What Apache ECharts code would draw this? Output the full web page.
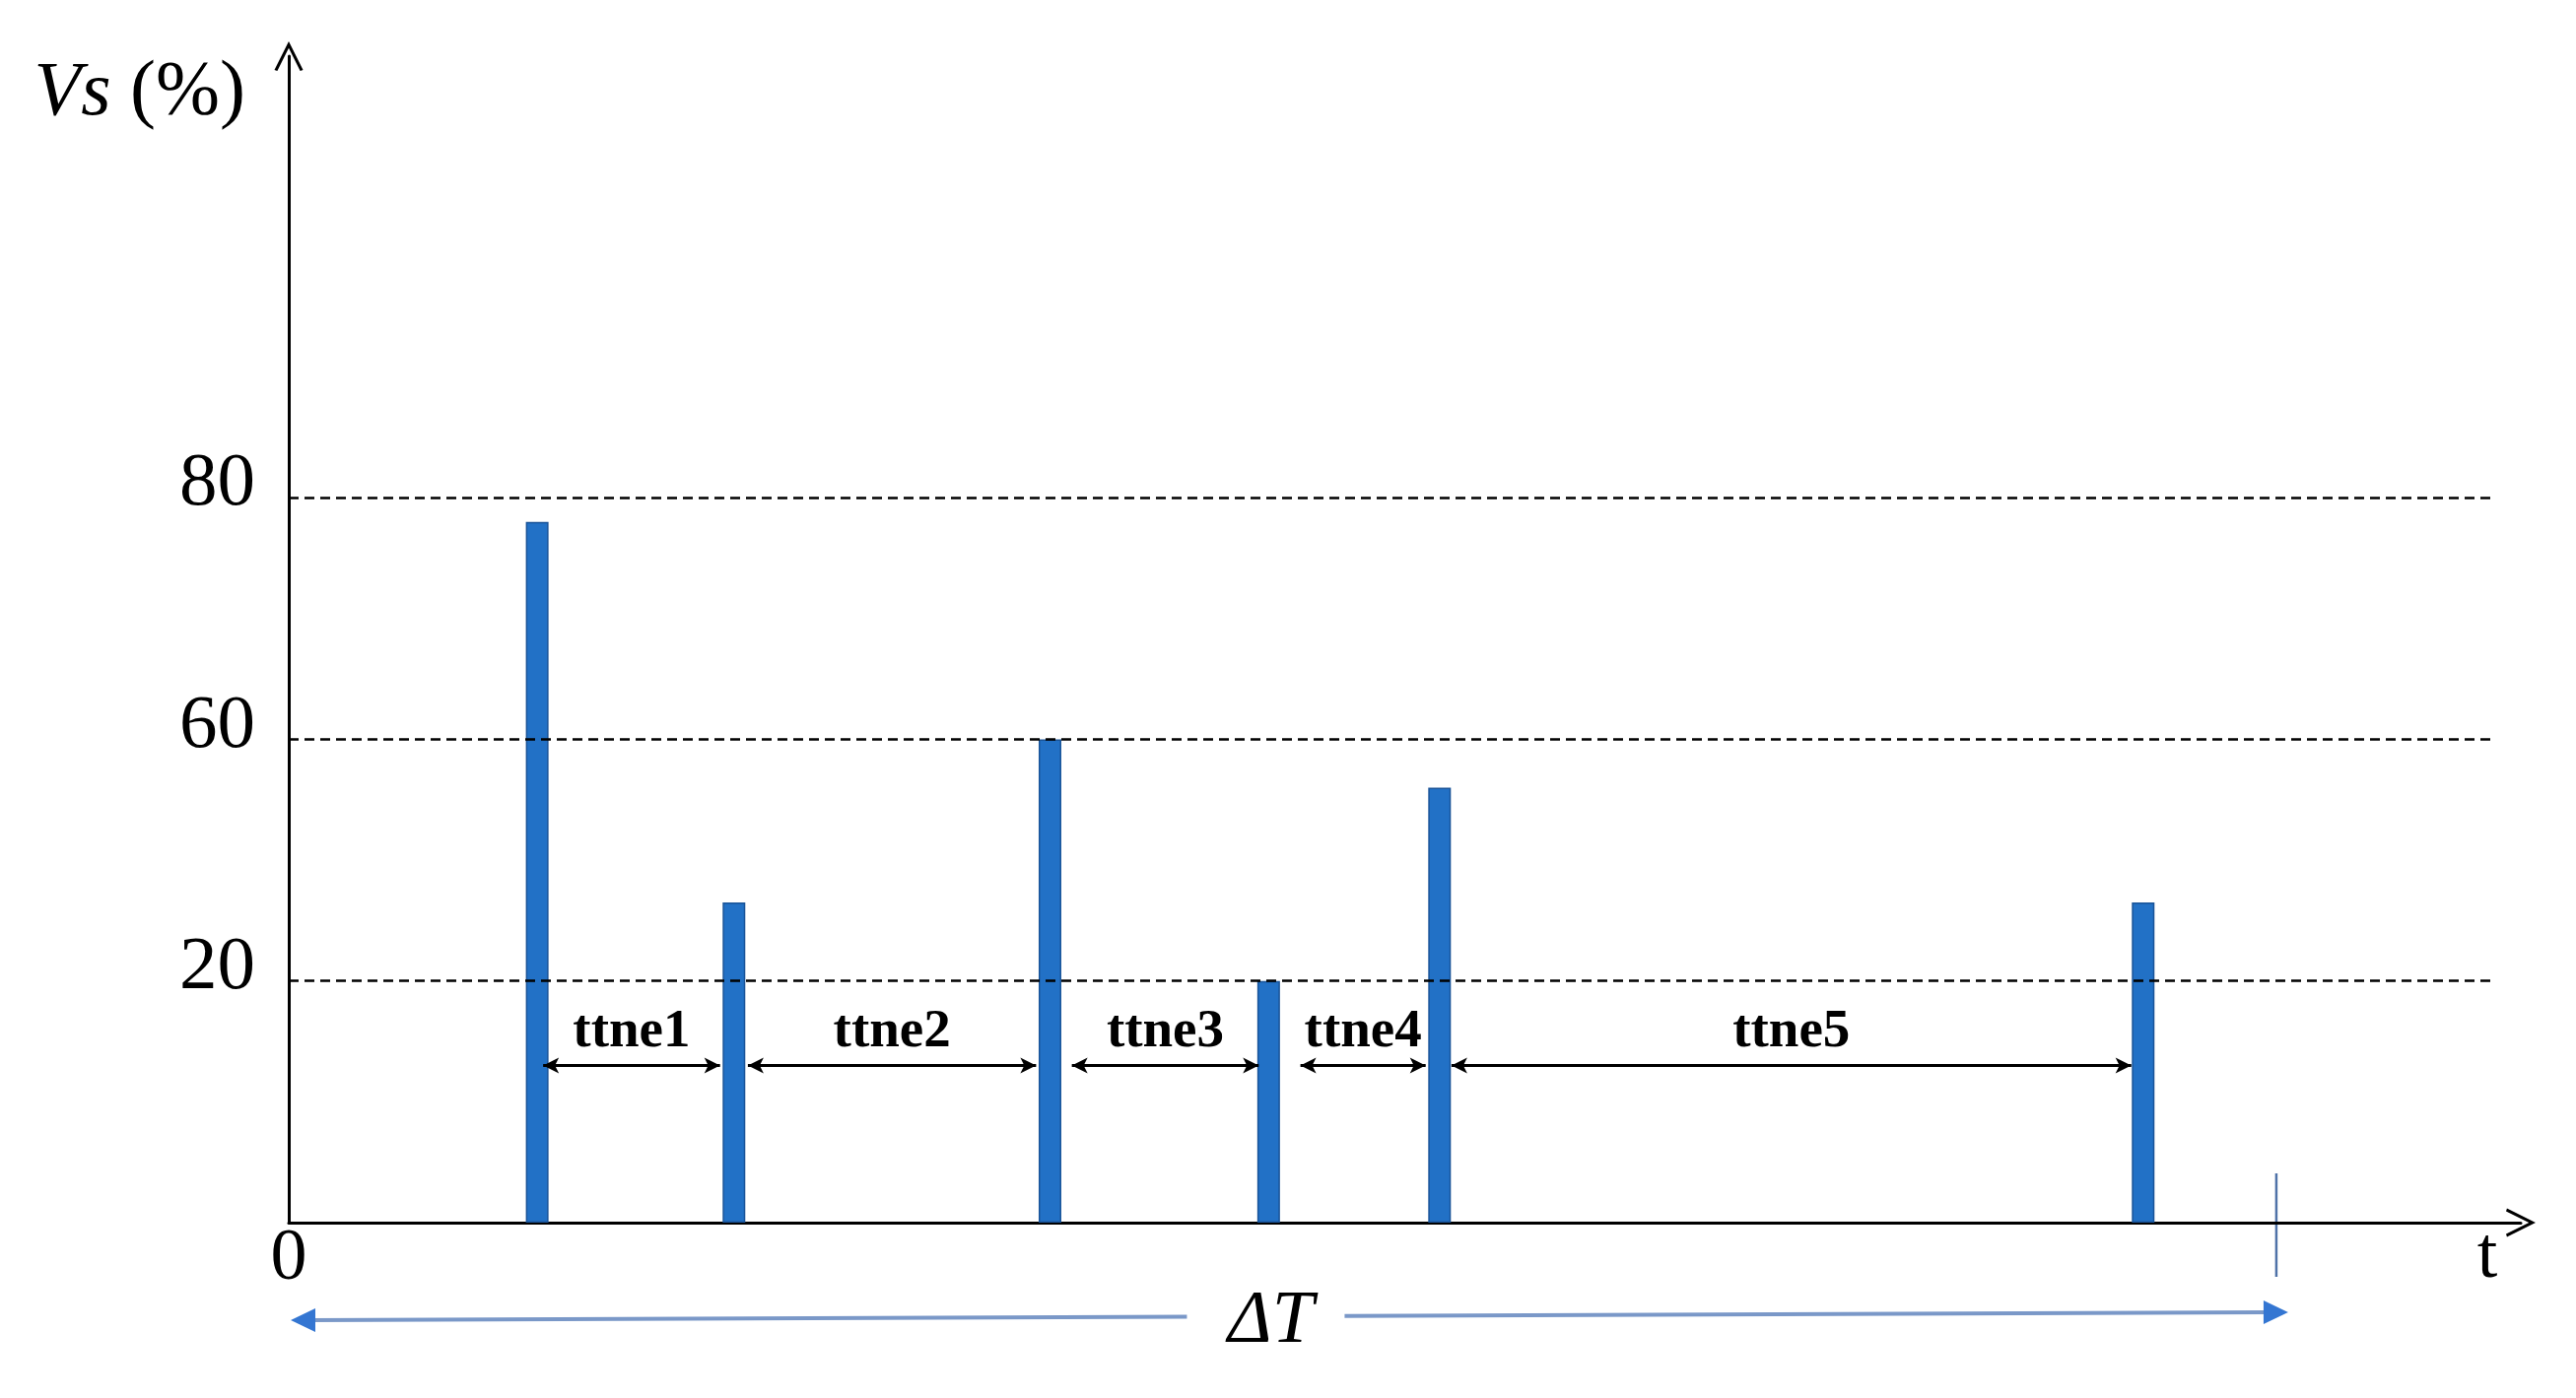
<!DOCTYPE html>
<html>
<head>
<meta charset="utf-8">
<script src="https://cdn.jsdelivr.net/npm/echarts@6/dist/echarts.min.js"></script>
<style>
  html, body { margin: 0; padding: 0; background: #fff; }
  #chart { width: 2614px; height: 1419px; }
</style>
</head>
<body>
<div id="chart"></div>
<script>
// event times (time window deltaT = 100) and peak Vs (%) of each event
var eventTimes = [12.5, 22.4, 38.3, 49.3, 57.9, 93.3];
var eventVs = [78, 33, 60, 20, 52, 33];
// y axis levels, drawn evenly spaced as in the sketch
var levelValues = [0, 20, 60, 80];
var levelLabels = ["", "20", "60", "80"];
// time-to-next-event arrows
var ttneNames = ["ttne1", "ttne2", "ttne3", "ttne4", "ttne5"];
var ttneFrom = [12.8, 23.1, 39.4, 50.9, 58.5];
var ttneTo = [21.7, 37.6, 48.8, 57.2, 92.7];
var ttneVs = 13;
var deltaT = 100;
var tMax = 112.3;
var gridEnd = 110.8;

var FONT = "Liberation Serif";
var chevron = "path://M0,30 L15,0 L30,30 L27,31 L15,7 L3,31 Z";

// piecewise map of Vs (%) onto the evenly spaced levels
function toLevel(v) {
  for (var i = 1; i < levelValues.length; i++) {
    if (v <= levelValues[i]) {
      var a = levelValues[i - 1], b = levelValues[i];
      return i - 1 + (v - a) / (b - a);
    }
  }
  var n = levelValues.length - 1;
  return n + (v - levelValues[n]) / (levelValues[n] - levelValues[n - 1]);
}

var chart = echarts.init(document.getElementById("chart"));

var option = {
  backgroundColor: "#fff",
  animation: false,
  grid: { left: 293, right: 56, top: 57, bottom: 178, containLabel: false },
  xAxis: {
    type: "value",
    min: 0,
    max: tMax,
    name: "t",
    nameLocation: "end",
    nameGap: -34,
    nameTextStyle: {
      fontFamily: FONT, fontSize: 74, color: "#000",
      align: "center", verticalAlign: "top", lineHeight: 72
    },
    axisLine: {
      show: true,
      symbol: ["none", chevron],
      symbolSize: [32, 30],
      lineStyle: { color: "#000", width: 3 }
    },
    axisTick: { show: false },
    splitLine: { show: false },
    axisLabel: {
      customValues: [0],
      formatter: function (v) { return String(v); },
      margin: 2,
      fontFamily: FONT,
      fontSize: 74,
      lineHeight: 72,
      color: "#000"
    }
  },
  yAxis: {
    type: "value",
    min: 0,
    max: 4.827,
    name: "{i|Vs} (%)",
    nameLocation: "end",
    nameGap: -38,
    nameTextStyle: {
      fontFamily: FONT, fontSize: 78, color: "#000",
      align: "right", verticalAlign: "middle", padding: [0, 44, 0, 0],
      rich: { i: { fontFamily: FONT, fontSize: 78, fontStyle: "italic", color: "#000" } }
    },
    axisLine: {
      show: true,
      symbol: ["none", chevron],
      symbolSize: [32, 30],
      lineStyle: { color: "#000", width: 3 }
    },
    axisTick: { show: false },
    splitLine: { show: false },
    axisLabel: {
      customValues: [1, 2, 3],
      formatter: function (v) { return levelLabels[Math.round(v)] || ""; },
      margin: 34,
      fontFamily: FONT,
      fontSize: 77,
      color: "#000",
      verticalAlign: "bottom",
      lineHeight: 26
    }
  },
  series: [
    {
      type: "bar",
      barWidth: 23,
      itemStyle: { color: "#2271c6", borderColor: "#1a5498", borderWidth: 1.5 },
      data: eventTimes.map(function (t, i) { return [t, toLevel(eventVs[i])]; }),
      markLine: {
        silent: true,
        symbol: "none",
        label: { show: false },
        lineStyle: { color: "#000", type: [10, 6], width: 2.5 },
        data: levelValues.slice(1).map(function (v) {
          return [{ coord: [0, toLevel(v)] }, { coord: [gridEnd, toLevel(v)] }];
        })
      }
    },
    {
      type: "line",
      data: [],
      markLine: {
        silent: true,
        symbol: ["arrow", "arrow"],
        symbolSize: [12, 16],
        lineStyle: { color: "#000", type: "solid", width: 3 },
        label: {
          show: true,
          position: "middle",
          formatter: "{b}",
          distance: 6,
          fontFamily: FONT,
          fontWeight: "bold",
          fontSize: 55,
          color: "#000"
        },
        data: ttneNames.map(function (n, i) {
          return [
            { name: n, coord: [ttneFrom[i], toLevel(ttneVs)] },
            { coord: [ttneTo[i], toLevel(ttneVs)] }
          ];
        })
      }
    }
  ]
};

chart.setOption(option);

// deltaT span under the time axis
var p0 = chart.convertToPixel({ gridIndex: 0 }, [0, 0]);
var p1 = chart.convertToPixel({ gridIndex: 0 }, [deltaT, 0]);
var base = p0[1];
var xa = p0[0] + 2, xb = p1[0] + 12;
var yL = base + 99, yR = base + 91;
var mid = (p0[0] + p1[0]) / 2 - 12;
function yAt(x) { return yL + (yR - yL) * (x - xa) / (xb - xa); }
var blue = "#7a98c8", head = "#3476d2";

chart.setOption({
  graphic: [
    { type: "line", silent: true,
      shape: { x1: p1[0], y1: base - 50, x2: p1[0], y2: base + 55 },
      style: { stroke: "#4f72a8", lineWidth: 2.5 } },
    { type: "line", silent: true,
      shape: { x1: xa + 20, y1: yAt(xa + 20), x2: mid - 85, y2: yAt(mid - 85) },
      style: { stroke: blue, lineWidth: 4 } },
    { type: "line", silent: true,
      shape: { x1: mid + 75, y1: yAt(mid + 75), x2: xb - 20, y2: yAt(xb - 20) },
      style: { stroke: blue, lineWidth: 4 } },
    { type: "polygon", silent: true,
      shape: { points: [[xa, yL], [xa + 25, yL - 12], [xa + 25, yL + 12]] },
      style: { fill: head } },
    { type: "polygon", silent: true,
      shape: { points: [[xb, yR], [xb - 25, yR - 12], [xb - 25, yR + 12]] },
      style: { fill: head } },
    { type: "text", silent: true, x: mid, y: base + 101,
      style: { text: "ΔT", font: "italic 76px 'Liberation Serif'", fill: "#000",
        align: "center", verticalAlign: "middle" } }
  ]
});
</script>
</body>
</html>
